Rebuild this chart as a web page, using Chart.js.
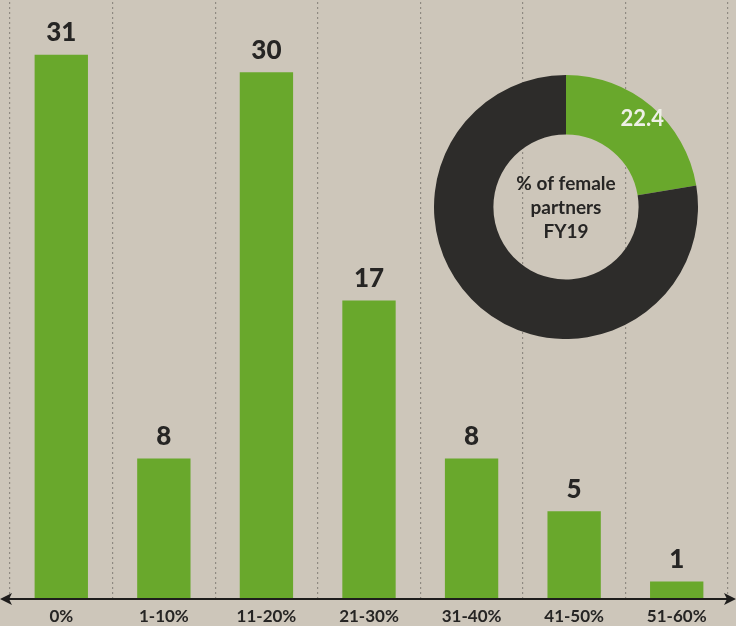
<!DOCTYPE html>
<html>
<head>
<meta charset="utf-8">
<script src="https://cdn.jsdelivr.net/npm/chart.js@4"></script>
<style>
  html, body { margin:0; padding:0; background:#cdc6ba; }
  #wrap { position:relative; width:736px; height:626px; overflow:hidden; background:#cdc6ba; }
  #bar { position:absolute; left:0; top:0; }
  #donut { position:absolute; left:434px; top:75px; }
</style>
</head>
<body>
<div id="wrap">
  <canvas id="bar" width="736" height="626"></canvas>
  <canvas id="donut" width="264" height="264"></canvas>
</div>
<script>
const categories = ['0%', '1-10%', '11-20%', '21-30%', '31-40%', '41-50%', '51-60%'];
const counts = [31, 8, 30, 17, 8, 5, 1];
const donutLabels = ['Female', 'Male'];
const donutValues = [22.4, 77.6];
const donutCenterText = ['% of female', 'partners', 'FY19'];

const GREEN = '#69a82c';
const DARK = '#2d2c2a';
const TEXT = '#262524';
const FONT = 'Lato, "Open Sans", sans-serif';

const barLabelPlugin = {
  id: 'barLabels',
  afterDatasetsDraw(chart) {
    const ctx = chart.ctx;
    const meta = chart.getDatasetMeta(0);
    ctx.save();
    ctx.fillStyle = TEXT;
    ctx.font = '900 26px ' + FONT;
    ctx.textAlign = 'center';
    ctx.textBaseline = 'bottom';
    meta.data.forEach((el, i) => {
      ctx.fillText(String(counts[i]), el.x, el.y - 9);
    });
    const y = chart.chartArea.bottom;
    ctx.strokeStyle = '#1e1d1c';
    ctx.fillStyle = '#1e1d1c';
    ctx.lineWidth = 2.2;
    ctx.beginPath();
    ctx.moveTo(4, y);
    ctx.lineTo(732, y);
    ctx.stroke();
    ctx.beginPath();
    ctx.moveTo(0, y); ctx.lineTo(12, y - 6); ctx.lineTo(9, y); ctx.lineTo(12, y + 6); ctx.closePath();
    ctx.fill();
    ctx.beginPath();
    ctx.moveTo(736, y); ctx.lineTo(724, y - 6); ctx.lineTo(727, y); ctx.lineTo(724, y + 6); ctx.closePath();
    ctx.fill();
    ctx.restore();
  }
};

new Chart(document.getElementById('bar'), {
  type: 'bar',
  data: {
    labels: categories,
    datasets: [{
      data: counts,
      backgroundColor: GREEN,
      borderWidth: 0,
      barPercentage: 0.52,
      categoryPercentage: 1.0
    }]
  },
  options: {
    responsive: false,
    animation: false,
    events: [],
    layout: { padding: { left: 10, right: 8, top: 2, bottom: 0 } },
    plugins: { legend: { display: false }, tooltip: { enabled: false } },
    scales: {
      x: {
        offset: true,
        grid: {
          offset: true,
          display: true,
          drawTicks: false,
          color: '#8f8a82',
          lineWidth: 1.2
        },
        border: { display: false, dash: [2, 3] },
        ticks: {
          padding: 7,
          color: TEXT,
          font: { family: FONT, size: 17, weight: 'bold' }
        },
        afterFit(scale) { scale.height = 27; }
      },
      y: {
        display: false,
        min: 0,
        max: 34,
        grid: { display: false }
      }
    }
  },
  plugins: [barLabelPlugin]
});

const donutTextPlugin = {
  id: 'donutText',
  afterDatasetsDraw(chart) {
    const ctx = chart.ctx;
    const meta = chart.getDatasetMeta(0);
    const arc = meta.data[0];
    const cx = arc.x, cy = arc.y;
    ctx.save();
    ctx.fillStyle = TEXT;
    ctx.font = 'bold 19px ' + FONT;
    ctx.textAlign = 'center';
    ctx.textBaseline = 'middle';
    donutCenterText.forEach((t, i) => {
      ctx.fillText(t, cx, cy - 23 + i * 24);
    });
    const mid = (arc.startAngle + arc.endAngle) / 2;
    const r = (arc.innerRadius + arc.outerRadius) / 2;
    ctx.fillStyle = '#eef0e6';
    ctx.font = 'bold 22px ' + FONT;
    ctx.fillText(String(donutValues[0]), cx + Math.cos(mid) * r + 10, cy + Math.sin(mid) * r - 10);
    ctx.restore();
  }
};

new Chart(document.getElementById('donut'), {
  type: 'doughnut',
  data: {
    labels: donutLabels,
    datasets: [{
      data: donutValues,
      backgroundColor: [GREEN, DARK],
      borderWidth: 0
    }]
  },
  options: {
    responsive: false,
    animation: false,
    events: [],
    cutout: '55%',
    layout: { padding: 0 },
    plugins: { legend: { display: false }, tooltip: { enabled: false } }
  },
  plugins: [donutTextPlugin]
});
</script>
</body>
</html>
